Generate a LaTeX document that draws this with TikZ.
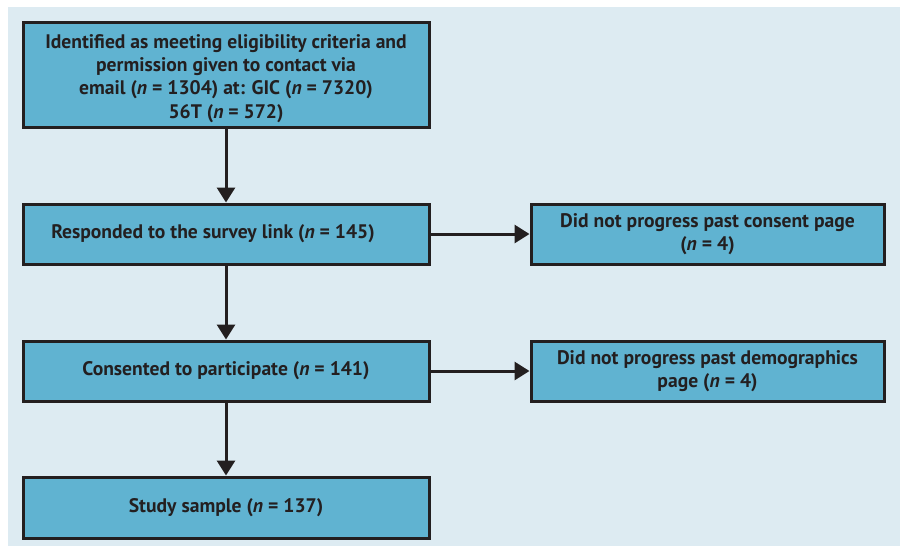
\documentclass[tikz,border=0pt]{standalone}
\usepackage{fontspec}
\setmainfont{PT Sans}
\usetikzlibrary{arrows.meta}
\definecolor{bgc}{HTML}{DDEBF2}
\definecolor{boxc}{HTML}{60B3D1}
\definecolor{inkc}{HTML}{231F20}
\tikzset{
  txt/.style={inner sep=0pt, align=center, font=\fontsize{19.6}{23.2}\selectfont\bfseries, text=inkc},
  fbox/.style={txt, draw=inkc, line width=3pt, fill=boxc, rectangle},
  conn/.style={draw=inkc, line width=3pt, -{Triangle[length=15pt,width=18pt]}}
}
\begin{document}
\begin{tikzpicture}[x=1pt,y=-1pt]
\useasboundingbox (0,0) rectangle (904,550);
\fill[white] (0,0) rectangle (904,550);
\fill[bgc] (8,7) rectangle (900,546);
\node[fbox, minimum width=406pt, minimum height=105pt] (a) at (226,74.5) {};
\node[txt] (at) at (226,78.5) {Identified as meeting eligibility criteria and\\permission given to contact via\\email (\textit{n} = 1304) at: GIC (\textit{n} = 7320)\\56T (\textit{n} = 572)};
\node[fbox, minimum width=406pt, minimum height=60pt] (b) at (226,234) {Responded to the survey link (\textit{n} = 145)\hspace*{26pt}};
\node[fbox, minimum width=406pt, minimum height=60pt] (c) at (226,371) {Consented to participate (\textit{n} = 141)};
\node[fbox, minimum width=406pt, minimum height=61pt] (d) at (226,507.5) {Study sample (\textit{n} = 137)};
\node[fbox, minimum width=353pt, minimum height=60pt] (e) at (707.5,234) {Did not progress past consent page\\(\textit{n} = 4)};
\node[fbox, minimum width=353pt, minimum height=60pt] (f) at (707.5,371) {Did not progress past demographics\\page (\textit{n} = 4)};
\draw[conn] (a) -- (b);
\draw[conn] (b) -- (c);
\draw[conn] (c) -- (d);
\draw[conn] (b) -- (e);
\draw[conn] (c) -- (f);
\end{tikzpicture}
\end{document}
